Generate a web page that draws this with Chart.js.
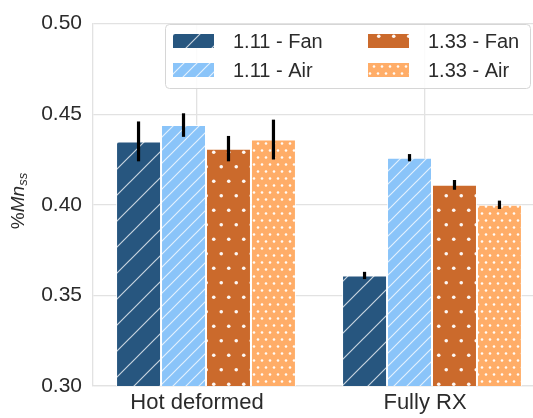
<!DOCTYPE html>
<html>
<head>
<meta charset="utf-8">
<script src="https://cdn.jsdelivr.net/npm/chart.js@4/dist/chart.umd.min.js"></script>
<style>
  html, body { margin: 0; padding: 0; background: #fff; overflow: hidden; }
  canvas { display: block; }
</style>
</head>
<body>
<canvas id="grafico" width="546" height="418"></canvas>
<script>
// dados
const categories = ['Hot deformed', 'Fully RX'];
const seriesLabels = ['1.11 - Fan', '1.11 - Air', '1.33 - Fan', '1.33 - Air'];
const fan111 = [0.435, 0.361];
const air111 = [0.444, 0.426];
const fan133 = [0.431, 0.411];
const air133 = [0.436, 0.400];
const fan111Err = [0.011, 0.002];
const air111Err = [0.0065, 0.002];
const fan133Err = [0.007, 0.0027];
const air133Err = [0.011, 0.0023];
const yTicks = [0.30, 0.35, 0.40, 0.45, 0.50];

const FONT = '"Liberation Sans", Arial, sans-serif';
const TEXT = '#2b2b2b';
const GRID = '#e2e2e2';

function makeHatch(bg, step) {
    const c = document.createElement('canvas');
    c.width = step; c.height = step;
    const g = c.getContext('2d');
    g.fillStyle = bg;
    g.fillRect(0, 0, step, step);
    g.strokeStyle = 'rgba(255,255,255,0.75)';
    g.lineWidth = 1.2;
    g.beginPath();
    g.moveTo(-2, step + 2); g.lineTo(step + 2, -2);
    g.moveTo(-2, 2); g.lineTo(2, -2);
    g.moveTo(step - 2, step + 2); g.lineTo(step + 2, step - 2);
    g.stroke();
    return g.createPattern(c, 'repeat');
}

function makeDots(bg, w, h, r) {
    const c = document.createElement('canvas');
    c.width = w; c.height = h;
    const g = c.getContext('2d');
    g.fillStyle = bg;
    g.fillRect(0, 0, w, h);
    g.fillStyle = 'rgba(255,255,255,0.95)';
    [[w / 4, h / 4], [w * 3 / 4, h * 3 / 4]].forEach(([x, y]) => {
        g.beginPath();
        g.arc(x, y, r, 0, Math.PI * 2);
        g.fill();
    });
    return g.createPattern(c, 'repeat');
}

const fills = [
    makeHatch('#27567f', 26),
    makeHatch('#8ac4f9', 13),
    makeDots('#cb6a2c', 15, 29, 1.8),
    makeDots('#ffad68', 8, 14, 1.3),
];
const valores = [fan111, air111, fan133, air133];
const erros = [fan111Err, air111Err, fan133Err, air133Err];

const errorBars = {
    id: 'errorBars',
    afterDatasetsDraw(chart) {
        const ctx = chart.ctx;
        const y = chart.scales.y;
        ctx.save();
        ctx.strokeStyle = '#000';
        ctx.lineWidth = 3.2;
        chart.data.datasets.forEach((ds, i) => {
            const meta = chart.getDatasetMeta(i);
            meta.data.forEach((bar, j) => {
                const v = ds.data[j];
                const e = erros[i][j];
                ctx.beginPath();
                ctx.moveTo(bar.x, y.getPixelForValue(v - e));
                ctx.lineTo(bar.x, y.getPixelForValue(v + e));
                ctx.stroke();
            });
        });
        ctx.restore();
    }
};

const legendaBox = {
    id: 'legendaBox',
    afterDraw(chart) {
        const ctx = chart.ctx;
        const x0 = 165, y0 = 24, w = 365, h = 64;
        ctx.save();
        ctx.fillStyle = 'rgba(255,255,255,0.85)';
        ctx.strokeStyle = '#d6d6d6';
        ctx.lineWidth = 1;
        ctx.beginPath();
        ctx.roundRect(x0 + 0.5, y0 + 0.5, w, h, 4);
        ctx.fill();
        ctx.stroke();
        // ordem por coluna como no matplotlib
        const ordem = [0, 2, 1, 3];
        ctx.font = '20px ' + FONT;
        ctx.textBaseline = 'middle';
        ctx.fillStyle = TEXT;
        ordem.forEach((k, pos) => {
            const col = pos % 2, row = Math.floor(pos / 2);
            const sx = col === 0 ? 173 : 368;
            const sy = row === 0 ? 34 : 63;
            ctx.fillStyle = fills[k];
            ctx.fillRect(sx, sy, 41, 14);
            ctx.fillStyle = TEXT;
            ctx.fillText(chart.data.datasets[k].label, sx + 60, sy + 8);
        });
        ctx.restore();
    }
};

const tituloY = {
    id: 'tituloY',
    afterDraw(chart) {
        const ctx = chart.ctx;
        ctx.save();
        ctx.translate(24, 201);
        ctx.rotate(-Math.PI / 2);
        ctx.fillStyle = TEXT;
        ctx.textBaseline = 'alphabetic';
        const partes = [
            { t: '%', f: '19px ' + FONT, dy: 0 },
            { t: 'Mn', f: 'italic 19px ' + FONT, dy: 0 },
            { t: 'ss', f: 'italic 13px ' + FONT, dy: 3 },
        ];
        let total = 0;
        partes.forEach(p => { ctx.font = p.f; p.w = ctx.measureText(p.t).width; total += p.w; });
        let x = -total / 2;
        partes.forEach(p => {
            ctx.font = p.f;
            ctx.fillText(p.t, x, p.dy);
            x += p.w;
        });
        ctx.restore();
    }
};

const canvas_grafico = document.getElementById('grafico');
const ctx = canvas_grafico.getContext('2d');

new Chart(ctx, {
    type: 'bar',
    data: {
        labels: categories,
        datasets: seriesLabels.map((label, i) => ({
            label: label,
            data: valores[i],
            backgroundColor: fills[i],
            borderColor: 'rgba(255,255,255,0.8)',
            borderWidth: 1,
            borderSkipped: 'start',
            xAxisID: 'x',
            categoryPercentage: 0.796,
            barPercentage: 1.0,
        })),
    },
    options: {
        responsive: false,
        animation: false,
        devicePixelRatio: 1,
        layout: { padding: { top: 15, right: 1, bottom: 0, left: 0 } },
        plugins: {
            legend: { display: false },
            tooltip: { enabled: false },
        },
        scales: {
            x: {
                type: 'category',
                display: false,
                offset: true,
            },
            xg: {
                type: 'linear',
                axis: 'x',
                position: 'bottom',
                offset: false,
                bounds: 'data',
                min: -0.4561,
                max: 1.5263,
                afterBuildTicks: (axis) => {
                    axis.ticks = categories.map((c, i) => ({ value: i }));
                },
                afterFit: (axis) => { axis.height = 32; },
                ticks: {
                    callback: (v) => categories[v],
                    color: TEXT,
                    font: { family: FONT, size: 22 },
                    padding: 4,
                    maxRotation: 0,
                    autoSkip: false,
                },
                grid: { color: GRID, lineWidth: 1.3, drawTicks: false, offset: false },
                border: { color: GRID, width: 1.3 },
            },
            y: {
                min: 0.30,
                max: 0.50,
                afterBuildTicks: (axis) => {
                    axis.ticks = yTicks.map(v => ({ value: v }));
                },
                afterFit: (axis) => { axis.width = 93; },
                ticks: {
                    callback: (v) => v.toFixed(2),
                    color: TEXT,
                    font: { family: FONT, size: 21 },
                    padding: 11,
                },
                grid: { color: GRID, lineWidth: 1.3, drawTicks: false },
                border: { color: GRID, width: 1.3 },
            },
        },
    },
    plugins: [errorBars, legendaBox, tituloY],
});
</script>
</body>
</html>
